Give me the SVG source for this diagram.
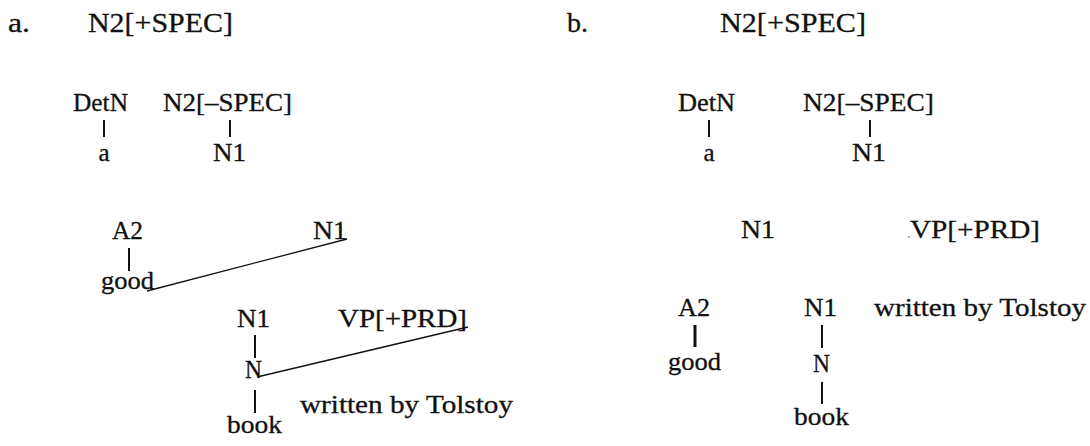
<svg xmlns="http://www.w3.org/2000/svg" width="1090" height="446" viewBox="0 0 1090 446">
<style>
text{font-family:"Liberation Serif","Times New Roman",serif;font-size:25px;fill:#111;stroke:#111;stroke-width:0.3}
.top{font-size:28px}
.m{text-anchor:middle}
.v{stroke:#111;stroke-width:2;fill:none}
.d{stroke:#111;stroke-width:1.3;fill:none}
</style>
<rect width="1090" height="446" fill="#fff"/>
<g id="panel-a">
<g id="a-label"><text class="top" x="8" y="32" textLength="22" lengthAdjust="spacingAndGlyphs">a.</text></g>
<g id="a-root"><text class="top" x="88" y="32" textLength="145" lengthAdjust="spacingAndGlyphs">N2[+SPEC]</text></g>
<g id="a-detn"><text x="73" y="111" textLength="55" lengthAdjust="spacingAndGlyphs">DetN</text></g>
<g id="a-n2spec"><text x="163" y="111" textLength="129" lengthAdjust="spacingAndGlyphs">N2[–SPEC]</text></g>
<g id="a-a"><text class="m" x="104" y="161">a</text></g>
<g id="a-n1a"><text x="213" y="161" textLength="33" lengthAdjust="spacingAndGlyphs">N1</text></g>
<g id="a-a2"><text x="112" y="239" textLength="31" lengthAdjust="spacingAndGlyphs">A2</text></g>
<g id="a-good"><text x="101" y="289" textLength="53" lengthAdjust="spacingAndGlyphs">good</text></g>
<g id="a-n1b"><text x="313" y="239" textLength="34" lengthAdjust="spacingAndGlyphs">N1</text></g>
<g id="a-n1c"><text x="237" y="327" textLength="33" lengthAdjust="spacingAndGlyphs">N1</text></g>
<g id="a-vp"><text x="338" y="327" textLength="129" lengthAdjust="spacingAndGlyphs">VP[+PRD]</text></g>
<g id="a-n"><text x="245" y="378" textLength="17" lengthAdjust="spacingAndGlyphs">N</text></g>
<g id="a-book"><text x="227" y="433" textLength="55" lengthAdjust="spacingAndGlyphs">book</text></g>
<g id="a-written"><text x="300" y="413" textLength="213" lengthAdjust="spacingAndGlyphs">written by Tolstoy</text></g>
</g>
<g id="panel-b">
<g id="b-label"><text class="top" x="567" y="32" textLength="21" lengthAdjust="spacingAndGlyphs">b.</text></g>
<g id="b-root"><text class="top" x="720" y="32" textLength="146" lengthAdjust="spacingAndGlyphs">N2[+SPEC]</text></g>
<g id="b-detn"><text x="678" y="111" textLength="57" lengthAdjust="spacingAndGlyphs">DetN</text></g>
<g id="b-n2spec"><text x="803" y="111" textLength="131" lengthAdjust="spacingAndGlyphs">N2[–SPEC]</text></g>
<g id="b-a"><text class="m" x="709" y="161">a</text></g>
<g id="b-n1a"><text x="852" y="161" textLength="34" lengthAdjust="spacingAndGlyphs">N1</text></g>
<g id="b-n1b"><text x="741" y="238" textLength="34" lengthAdjust="spacingAndGlyphs">N1</text></g>
<g id="b-vp"><circle cx="909" cy="237" r="0.8" fill="#444"/><text x="910" y="238" textLength="130" lengthAdjust="spacingAndGlyphs">VP[+PRD]</text></g>
<g id="b-a2"><text x="678" y="316" textLength="32" lengthAdjust="spacingAndGlyphs">A2</text></g>
<g id="b-good"><text x="668" y="370" textLength="53" lengthAdjust="spacingAndGlyphs">good</text></g>
<g id="b-n1c"><text x="804" y="316" textLength="33" lengthAdjust="spacingAndGlyphs">N1</text></g>
<g id="b-n"><text x="813" y="372" textLength="17" lengthAdjust="spacingAndGlyphs">N</text></g>
<g id="b-book"><text x="794" y="425" textLength="55" lengthAdjust="spacingAndGlyphs">book</text></g>
<g id="b-written"><text x="874" y="316" textLength="212" lengthAdjust="spacingAndGlyphs">written by Tolstoy</text></g>
</g>
<g id="connectors">
<line class="v" x1="104" y1="120" x2="104" y2="137"/>
<line class="v" x1="230" y1="120" x2="230" y2="137"/>
<line class="v" x1="129" y1="248" x2="129" y2="271"/>
<line class="d" x1="147" y1="291" x2="347" y2="239"/>
<line class="v" x1="255" y1="335" x2="255" y2="358"/>
<line class="d" x1="257" y1="377" x2="468" y2="327"/>
<line class="v" x1="255" y1="390" x2="255" y2="413"/>
<line class="v" x1="709" y1="120" x2="709" y2="137"/>
<line class="v" x1="870" y1="120" x2="870" y2="137"/>
<line class="v" x1="695" y1="325" x2="695" y2="347" style="stroke-width:3"/>
<line class="v" x1="822" y1="325" x2="822" y2="348"/>
<line class="v" x1="822" y1="382" x2="822" y2="404"/>
</g>
</svg>
